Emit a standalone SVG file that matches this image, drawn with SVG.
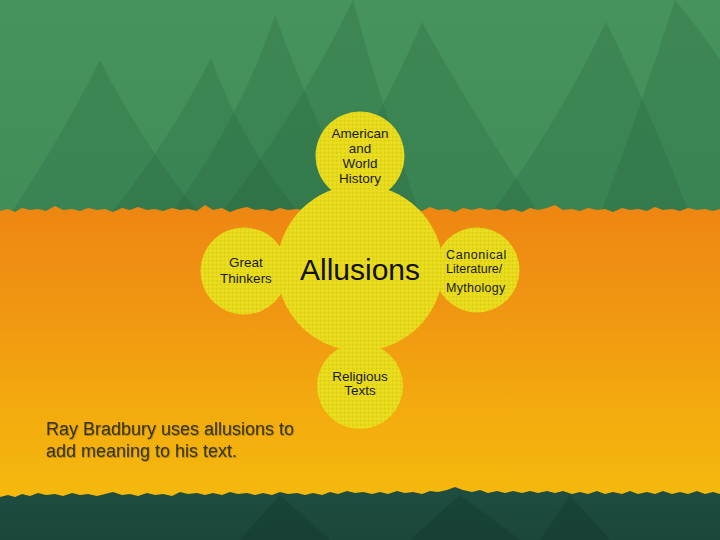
<svg xmlns="http://www.w3.org/2000/svg" width="720" height="540" viewBox="0 0 720 540">
<defs>
<linearGradient id="gTop" x1="0" y1="0" x2="0" y2="1">
<stop offset="0" stop-color="#46935d"/>
<stop offset="1" stop-color="#3b8654"/>
</linearGradient>
<linearGradient id="gOrange" x1="0" y1="0" x2="0" y2="1">
<stop offset="0" stop-color="#ee8612"/>
<stop offset="0.35" stop-color="#f09612"/>
<stop offset="0.7" stop-color="#f3ab0e"/>
<stop offset="1" stop-color="#f5b90c"/>
</linearGradient>
<linearGradient id="gBottom" x1="0" y1="0" x2="0" y2="1">
<stop offset="0" stop-color="#1f4d40"/>
<stop offset="1" stop-color="#1b463b"/>
</linearGradient>
<pattern id="dots" width="4" height="4" patternUnits="userSpaceOnUse">
<rect x="0" y="0" width="1.5" height="1.5" fill="#b8a800" opacity="0.25"/>
<rect x="2" y="2" width="1.5" height="1.5" fill="#fff36a" opacity="0.25"/>
</pattern>
<filter id="sh" x="-5%" y="-20%" width="110%" height="140%">
<feDropShadow dx="0.6" dy="0.8" stdDeviation="0.5" flood-color="#000" flood-opacity="0.35"/>
</filter>
</defs>
<style>
.tri{fill:#1f5a38;opacity:0.2}
.trib{fill:#0f3328;opacity:0.3}
.node{fill:#e7da1a}
.tex{fill:url(#dots)}
.lbl{font-family:"Liberation Sans",Arial,sans-serif;font-size:13.5px;fill:#1a1a1a;text-anchor:middle}
.big{font-family:"Liberation Sans",Arial,sans-serif;font-size:30px;fill:#111;text-anchor:middle}
.note{font-family:"Liberation Sans",Arial,sans-serif;font-size:18px;fill:#363618}
</style>
<!-- background -->
<rect x="0" y="0" width="720" height="540" fill="url(#gTop)"/>
<g id="spikes">
<path class="tri" d="M353,0 Q300,110 220,215 L420,215 Q380,100 353,0 Z"/>
<path class="tri" d="M422,22 Q380,120 320,215 L540,215 Q470,110 422,22 Z"/>
<path class="tri" d="M606,22 Q560,120 490,215 L690,215 Q650,110 606,22 Z"/>
<path class="tri" d="M211,58 Q170,140 110,215 L300,215 Q240,140 211,58 Z"/>
<path class="tri" d="M275,15 Q240,120 170,215 L360,215 Q310,110 275,15 Z"/>
<path class="tri" d="M675,0 Q640,110 600,215 L720,215 L720,60 Q700,30 675,0 Z"/>
<path class="tri" d="M100,60 Q60,140 10,215 L200,215 Q140,140 100,60 Z" opacity="0.1"/>
</g>
<path fill="url(#gOrange)" d="M0,211 L8,209 L15,212 L22,208 L30,210 L38,209 L46,211 L55,206 L63,210 L72,209 L80,211 L88,208 L97,210 L105,209 L113,212 L122,208 L130,210 L138,207 L147,210 L155,209 L163,211 L172,208 L180,210 L188,209 L197,211 L205,205 L213,210 L222,208 L230,212 L238,209 L247,207 L255,210 L263,209 L272,211 L280,208 L288,210 L297,209 L305,211 L313,209 L322,212 L330,208 L338,210 L347,209 L355,211 L363,207 L372,210 L380,209 L388,211 L397,208 L405,210 L413,209 L422,211 L430,207 L438,210 L447,209 L455,212 L463,208 L472,210 L480,208 L488,210 L497,209 L505,211 L513,209 L522,212 L530,208 L538,210 L547,208 L555,205 L563,210 L572,209 L580,211 L588,208 L597,210 L605,209 L613,212 L622,208 L630,210 L638,209 L647,211 L655,207 L663,210 L672,209 L680,211 L688,208 L697,210 L705,209 L713,211 L720,209 L720,500 L0,500 Z"/>
<path fill="url(#gBottom)" d="M0,497 L8,495 L15,497 L22,494 L30,496 L38,493 L46,495 L55,494 L63,496 L72,493 L80,495 L88,494 L97,496 L105,494 L113,492 L122,495 L130,494 L138,496 L147,493 L155,495 L163,494 L172,496 L180,492 L188,494 L197,493 L205,495 L213,493 L222,495 L230,492 L238,494 L247,493 L255,495 L263,493 L272,495 L280,492 L288,494 L297,493 L305,495 L313,493 L322,495 L330,492 L338,494 L347,491 L355,493 L363,492 L372,494 L380,492 L388,494 L397,491 L405,493 L413,492 L422,494 L430,491 L438,492 L447,490 L455,487 L463,490 L472,492 L480,490 L488,493 L497,491 L505,493 L513,491 L522,493 L530,491 L538,493 L547,491 L555,493 L563,491 L572,494 L580,492 L588,494 L597,491 L605,494 L613,492 L622,494 L630,491 L638,494 L647,492 L655,494 L663,491 L672,494 L680,492 L688,494 L697,491 L705,494 L713,492 L720,494 L720,540 L0,540 Z"/>
<g id="bottom-spikes">
<path class="trib" d="M280,495 L240,540 L330,540 Z" opacity="0.15"/>
<path class="trib" d="M460,495 L410,540 L520,540 Z" opacity="0.2"/>
<path class="trib" d="M570,495 L540,540 L610,540 Z" opacity="0.15"/>
</g>
<!-- nodes -->
<g id="node-allusions">
<circle class="node" cx="360" cy="268" r="83"/>
<circle class="tex" cx="360" cy="268" r="83"/>
</g>
<g id="node-history">
<circle class="node" cx="360" cy="156" r="44.5"/>
<circle class="tex" cx="360" cy="156" r="44.5"/>
<text class="lbl"><tspan x="360" y="138">American</tspan><tspan x="360" y="153">and</tspan><tspan x="360" y="168">World</tspan><tspan x="360" y="183">History</tspan></text>
</g>
<g id="node-thinkers">
<circle class="node" cx="244" cy="271" r="43.5"/>
<circle class="tex" cx="244" cy="271" r="43.5"/>
<text class="lbl"><tspan x="246" y="267">Great</tspan><tspan x="246" y="283">Thinkers</tspan></text>
</g>
<g id="node-canonical">
<circle class="node" cx="477" cy="270" r="42.5"/>
<circle class="tex" cx="477" cy="270" r="42.5"/>
<text class="lbl" style="text-anchor:start;font-size:12.5px"><tspan x="446" y="259" letter-spacing="0.6">Canonical</tspan><tspan x="446" y="273">Literature/</tspan><tspan x="446" y="292" letter-spacing="0.3">Mythology</tspan></text>
</g>
<g id="node-religious">
<circle class="node" cx="360" cy="386" r="43"/>
<circle class="tex" cx="360" cy="386" r="43"/>
<text class="lbl"><tspan x="360" y="381">Religious</tspan><tspan x="360" y="395">Texts</tspan></text>
</g>
<g id="center-label">
<text class="big" x="360" y="280">Allusions</text>
</g>
<g id="connectors"></g>
<text class="note" filter="url(#sh)"><tspan x="46" y="435">Ray Bradbury uses allusions to</tspan><tspan x="46" y="457">add meaning to his text.</tspan></text>
</svg>
